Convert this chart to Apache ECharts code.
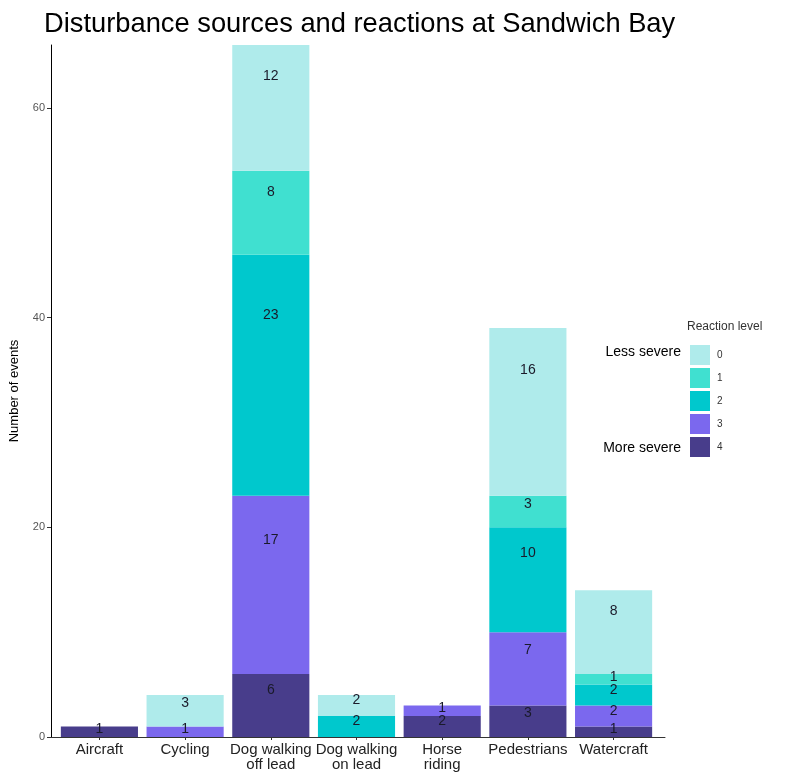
<!DOCTYPE html>
<html>
<head>
<meta charset="utf-8">
<script src="https://cdn.jsdelivr.net/npm/echarts@6/dist/echarts.min.js"></script>
<style>html,body{margin:0;padding:0;background:#fff}#c{width:787px;height:773px}</style>
</head>
<body>
<div id="c"></div>
<script>
const categories = ["Aircraft", "Cycling", "Dog walking\noff lead", "Dog walking\non lead", "Horse\nriding", "Pedestrians", "Watercraft"];
const levels = ["0", "1", "2", "3", "4"];
// counts per category for each reaction level
const level4 = [1, 0, 6, 0, 2, 3, 1];
const level3 = [0, 1, 17, 0, 1, 7, 2];
const level2 = [0, 0, 23, 2, 0, 10, 2];
const level1 = [0, 0, 8, 0, 0, 3, 1];
const level0 = [0, 3, 12, 2, 0, 16, 8];
const yTicks = [0, 20, 40, 60];
const colors = {"0": "#afebeb", "1": "#40e0d0", "2": "#00c8cd", "3": "#7b68ee", "4": "#483d8b"};

const seriesData = [["4", level4], ["3", level3], ["2", level2], ["1", level1], ["0", level0]];
const FONT = "Liberation Sans, Arial, sans-serif";

// ggplot-style discrete expansion: axis spans 0.4..7.6 category units
const L = 48, R = 122, W = 787 - L - R;
const unit = W / 7.2;
const innerLeft = L + 0.1 * unit, innerRight = R + 0.1 * unit;

const chart = echarts.init(document.getElementById('c'), null, {renderer: 'canvas'});
const option = {
  animation: false,
  backgroundColor: '#fff',
  textStyle: {fontFamily: FONT},
  title: {
    text: "Disturbance sources and reactions at Sandwich Bay",
    left: 39, top: 6,
    textStyle: {fontFamily: FONT, fontSize: 27.3, fontWeight: 'normal', color: '#000'}
  },
  grid: [
    {left: L, right: R, top: 45, bottom: 36, containLabel: false},
    {left: innerLeft, right: innerRight, top: 45, bottom: 36, containLabel: false}
  ],
  xAxis: [
    {
      gridIndex: 0, type: 'value', min: 0.4, max: 7.6,
      splitLine: {show: false},
      axisLine: {show: true, onZero: false, lineStyle: {color: '#333', width: 1}},
      axisTick: {show: false}, axisLabel: {show: false}
    },
    {
      gridIndex: 1, type: 'category', data: categories,
      axisLine: {show: false},
      axisTick: {show: true, alignWithLabel: true, length: 3, lineStyle: {color: '#333'}},
      axisLabel: {color: '#222', fontSize: 15, fontFamily: FONT, lineHeight: 15, margin: 5, interval: 0}
    }
  ],
  yAxis: [
    {
      gridIndex: 0, type: 'value', min: 0, max: 66,
      name: 'Number of events', nameLocation: 'middle', nameGap: 30,
      nameTextStyle: {color: '#000', fontSize: 13, fontFamily: FONT},
      splitLine: {show: false},
      axisLine: {show: true, onZero: false, lineStyle: {color: '#000', width: 1}},
      axisTick: {show: true, length: 4, lineStyle: {color: '#333'}, customValues: yTicks},
      axisLabel: {customValues: yTicks, color: '#555', fontSize: 11, margin: 6, fontFamily: FONT}
    },
    {
      gridIndex: 1, type: 'value', min: 0, max: 66, show: false,
      splitLine: {show: false}
    }
  ],
  legend: {
    orient: 'vertical', left: 690, top: 345,
    itemWidth: 20, itemHeight: 20, itemGap: 3,
    data: levels,
    icon: 'rect',
    textStyle: {fontSize: 10, color: '#333', fontFamily: FONT, padding: [0,0,0,2]},
    padding: 0
  },
  graphic: [
    {type: 'text', left: 687, top: 321, style: {text: 'Reaction level', font: '12px ' + FONT, fill: '#333'}},
    {type: 'text', right: 106, top: 345, style: {text: 'Less severe', font: '14px ' + FONT, fill: '#000'}},
    {type: 'text', right: 106, top: 441, style: {text: 'More severe', font: '14px ' + FONT, fill: '#000'}}
  ],
  series: seriesData.map(([name, arr]) => ({
    name: name, type: 'bar', stack: 'total', barWidth: '90%',
    xAxisIndex: 1, yAxisIndex: 1,
    itemStyle: {color: colors[name]},
    label: {
      show: true, position: ['50%', '25%'], align: 'center', verticalAlign: 'middle',
      color: '#1a1a2a', fontSize: 14, fontFamily: FONT,
      formatter: p => p.value > 0 ? String(p.value) : ''
    },
    data: arr
  }))
};
chart.setOption(option);
</script>
</body>
</html>
